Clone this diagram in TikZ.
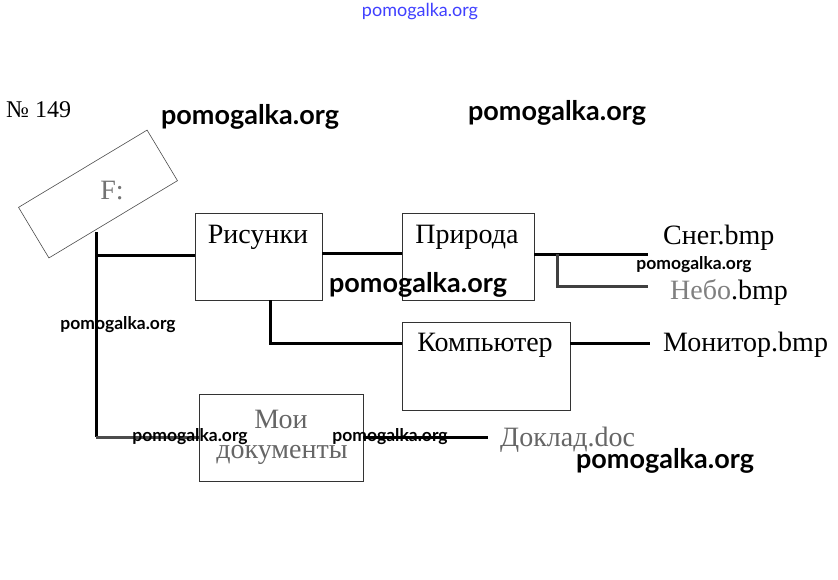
\documentclass[tikz,border=0pt]{standalone}
\usepackage{fontspec}
\setmainfont{Liberation Serif}
\newfontfamily\wmfont{Lato}
\begin{document}
\begin{tikzpicture}[x=1pt,y=-1pt,
  box/.style={draw=black!80,line width=0.8pt,inner sep=0pt},
  conn/.style={draw=black,line width=3pt},
  txt/.style={font=\fontsize{28}{30}\selectfont,inner sep=0pt},
  wmbig/.style={font=\wmfont\bfseries\fontsize{27}{29}\selectfont,inner sep=0pt,text=black},
  wmsmall/.style={font=\wmfont\bfseries\fontsize{17.5}{19}\selectfont,inner sep=0pt,text=black}]
\useasboundingbox[fill=white] (0,0) rectangle (838,579);

% F: rotated box
\node[draw=black!70,line width=0.6pt,rotate=31,minimum width=150pt,minimum height=59pt,inner sep=0pt] (fbox) at (98,194) {};
\node[txt,text=black!55] (ftext) at (112,191) {F:};

% boxes
\path[box] (195,213) rectangle (322,300);
\node[inner sep=0pt,minimum width=127pt,minimum height=87pt] (ris) at (258.5,256.5) {};
\path[box] (402,213) rectangle (534,300);
\node[inner sep=0pt,minimum width=132pt,minimum height=87pt] (prir) at (468,256.5) {};
\path[box] (402,322) rectangle (570,410);
\node[inner sep=0pt,minimum width=168pt,minimum height=88pt] (komp) at (486,366) {};
\path[box] (199,394) rectangle (363,481);
\node[inner sep=0pt,minimum width=164pt,minimum height=87pt] (moi) at (281,437.5) {};

% box texts
\node[txt] (tris) at (258,237) {Рисунки};
\node[txt] (tprir) at (467,237) {Природа};
\node[txt] (tkomp) at (485,345) {Компьютер};
\node[txt,text=black!60] (tmoi1) at (281,419) {Мои};
\node[txt,text=black!60] (tmoi2) at (282,455) {документы};

% leaf labels
\node[txt,anchor=west] (sneg) at (663,238) {Снег.bmp};
\node[txt,anchor=west] (nebo) at (670,292) {\textcolor{black!50}{Небо}.bmp};
\node[txt,anchor=west] (monit) at (663,345) {Монитор.bmp};
\node[txt,anchor=west,text=black!60] (doklad) at (500,440) {Доклад.doc};
\node[font=\fontsize{24}{26}\selectfont,inner sep=0pt,anchor=west] (num) at (6,110) {№ 149};

% connector helper coordinates
\coordinate (ftop) at (96,232);
\coordinate (fj1) at (96,255);
\coordinate (fbot) at (96,437);
\coordinate (rb) at (270,300);
\coordinate (rk) at (270,343);
\coordinate (pj) at (557,254);
\coordinate (pj2) at (557,286);
\coordinate (sneg_end) at (648,254);
\coordinate (nebo_end) at (648,286);
\coordinate (mon_end) at (650,343);
\coordinate (dok_end) at (488,437);

% connectors
\draw[conn] (ftop) -- (fbot);
\draw[conn] (fj1) -- (fj1 -| ris.west);
\draw[conn] (ris.east |- 0,253) -- (prir.west |- 0,253);
\draw[conn] (prir.east |- pj) -- (sneg_end);
\draw[conn,draw=black!75] (pj) -- (pj2) -- (nebo_end);
\draw[conn] (rb) -- (rk) -- (rk -| komp.west);
\draw[conn] (komp.east |- mon_end) -- (mon_end);
\draw[conn,draw=black!70] (fbot) -- (fbot -| moi.west);
\draw[conn] (moi.east |- dok_end) -- (dok_end);

% watermarks
\node[font=\wmfont\fontsize{18}{20}\selectfont,text=blue!75,inner sep=0pt] (wm0) at (420,12) {pomogalka.org};
\node[wmbig] (wm1) at (250,117) {pomogalka.org};
\node[wmbig] (wm2) at (557,113) {pomogalka.org};
\node[wmbig] (wm3) at (418,285) {pomogalka.org};
\node[wmsmall] (wm4) at (694,265) {pomogalka.org};
\node[wmsmall] (wm5) at (118,325) {pomogalka.org};
\node[wmsmall] (wm6) at (190,437) {pomogalka.org};
\node[wmsmall] (wm7) at (390,437) {pomogalka.org};
\node[wmbig] (wm8) at (665,461) {pomogalka.org};
\end{tikzpicture}
\end{document}
